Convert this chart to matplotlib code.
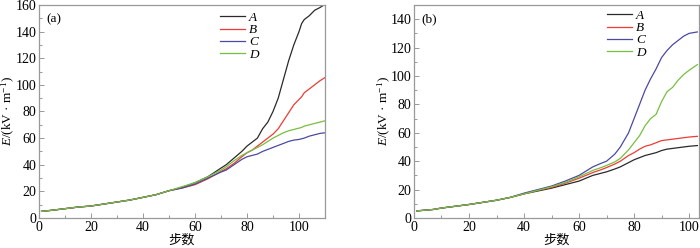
import matplotlib
matplotlib.use("Agg")
import matplotlib.pyplot as plt
from matplotlib.ticker import MultipleLocator

plt.rcParams['font.family'] = ['Liberation Serif', 'Noto Sans CJK SC', 'DejaVu Sans']
plt.rcParams['mathtext.fontset'] = 'custom'
plt.rcParams['mathtext.rm'] = 'Liberation Serif'
plt.rcParams['mathtext.it'] = 'Liberation Serif:italic'

# ---- panel (a) values ----
a_x = [1, 5, 10, 15, 20, 25, 30, 35, 40, 45, 50, 55, 60, 65, 70, 72, 75, 78, 80, 82, 84,
       86, 88, 90, 92, 94, 96, 98, 100, 101, 102, 104, 106, 108, 110]
a_A = [5, 5.8, 7, 8.2, 9, 10.5, 12, 13.5, 15.5, 17.5, 20.5, 23, 26.5, 31, 37.5, 40, 45, 50, 54, 57, 60,
       67, 72, 80, 90, 104, 118, 130, 140, 146, 149, 152, 156, 158, 160.5]
a_B = [5, 5.8, 7, 8.2, 9, 10.5, 12, 13.5, 15.5, 17.5, 20.5, 22.5, 25, 29.5, 35, 37, 41, 46, 49, 51, 54,
       57, 60, 63, 67, 73, 79, 85, 89, 91, 94, 97, 100, 103, 105.5]
a_C = [5, 5.8, 7, 8.2, 9, 10.5, 12, 13.5, 15.5, 17.5, 20.5, 22.5, 25.5, 30, 34.5, 36, 40, 44, 46, 47, 48,
       50, 51.5, 53, 54.5, 56, 57.5, 58.5, 59, 59.5, 60, 61.5, 62.5, 63.5, 64]
a_D = [5, 5.8, 7, 8.2, 9, 10.5, 12, 13.5, 15.5, 17.5, 20.5, 23.5, 26.5, 31, 36, 38.5, 43, 47, 49, 51, 53,
       55, 57.5, 60, 62, 64, 65.5, 66.5, 67.5, 68, 69, 70, 71, 72, 73]

# ---- panel (b) values ----
b_x = [1, 7, 10, 20, 30, 35, 40, 45, 50, 55, 60, 65, 68, 70, 73, 75, 78, 80, 82, 84,
       86, 88, 90, 92, 94, 96, 98, 100, 103]
b_A = [5, 6, 7, 9.5, 12.5, 14.5, 17, 19, 21, 23.5, 26, 30, 31.5, 32.5, 34.5, 36, 39, 41, 42.5, 44,
       45, 46, 47.5, 48.5, 49, 49.5, 50, 50.5, 51]
b_B = [5, 6, 7, 9.5, 12.5, 14.5, 17, 19.5, 21.5, 24.5, 28, 32, 34, 35.5, 38, 40, 44, 46, 48.5, 50.5,
       51.5, 53, 54.5, 55, 55.5, 56, 56.5, 57, 57.5]
b_C = [5, 6, 7, 9.5, 12.5, 14.5, 17.5, 20, 22.5, 26, 30, 36, 38.5, 40, 45, 50, 60, 70, 80, 90,
       98, 105, 113, 118, 122, 125, 128, 130, 131]
b_D = [5, 6, 7, 9.5, 12.5, 14.5, 17, 19.5, 22, 25, 29, 33.5, 35.5, 37, 39.5, 42, 48, 53, 58, 65,
       70, 73, 82, 89, 92, 97, 101, 104, 108]

labels = ['A', 'B', 'C', 'D']
colors = ['#2a2a2a', '#ee3b35', '#4a4aa2', '#77bf3f']
y_title = r'$E$/(kV · m$^{-1}$)'
x_title = '步数'

fig = plt.figure(figsize=(7.0, 2.48), dpi=100)
ax_a = fig.add_axes([0.0557, 0.121, 0.4086, 0.859])
ax_b = fig.add_axes([0.5914, 0.121, 0.4072, 0.859])

panels = [
    (ax_a, a_x, [a_A, a_B, a_C, a_D], (0, 110), (0, 160), '(a)', (0.633, 0.968)),
    (ax_b, b_x, [b_A, b_B, b_C, b_D], (0, 103.6), (0, 150), '(b)', (0.677, 0.978)),
]

for ax, xs, series, xlim, ylim, tag, leg_pos in panels:
    for ys, lab, col in zip(series, labels, colors):
        ax.plot(xs, ys, color=col, lw=0.9, label=lab)
    ax.set_xlim(*xlim)
    ax.set_ylim(*ylim)
    ax.xaxis.set_major_locator(MultipleLocator(20))
    ax.xaxis.set_minor_locator(MultipleLocator(10))
    ax.yaxis.set_major_locator(MultipleLocator(20))
    ax.yaxis.set_minor_locator(MultipleLocator(10))
    ax.tick_params(which='both', direction='in', top=False, right=False,
                   color='#888888', labelsize=10, pad=2)
    ax.tick_params(which='major', length=3.5, width=0.6)
    ax.tick_params(which='minor', length=2, width=0.6)
    for sp in ax.spines.values():
        sp.set_color('#999999')
        sp.set_linewidth(0.9)
    ax.set_ylabel(y_title, fontsize=9.5, va='center')
    ax.yaxis.set_label_coords(-0.105, 0.5)
    ax.set_xlabel(x_title, fontsize=9.5, labelpad=0, family=['Noto Sans CJK SC', 'DejaVu Sans'])
    ax.text(0.025, 0.96, tag, transform=ax.transAxes, fontsize=9.5, va='top', ha='left')
    leg = ax.legend(loc='upper left', bbox_to_anchor=leg_pos, frameon=False, fontsize=9.5,
                    handlelength=1.9, handletextpad=0.3, labelspacing=0.0, borderpad=0,
                    borderaxespad=0)
    for t in leg.get_texts():
        t.set_fontstyle('italic')

fig.savefig('out.png', dpi=100)
